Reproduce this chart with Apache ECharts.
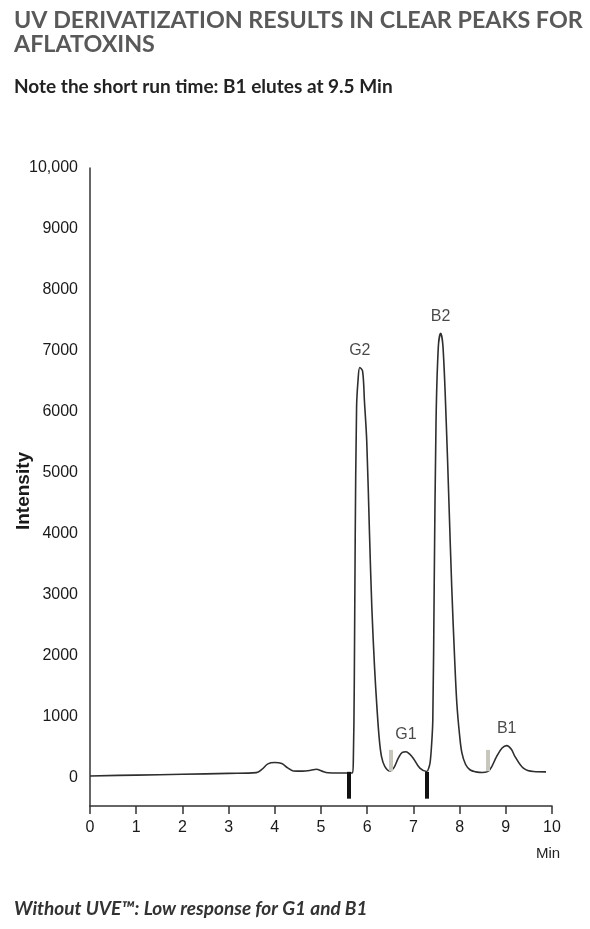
<!DOCTYPE html>
<html>
<head>
<meta charset="utf-8">
<script src="https://cdn.jsdelivr.net/npm/echarts@6/dist/echarts.min.js"></script>
<style>
html,body{margin:0;padding:0;background:#fff;}
#chart{width:590px;height:929px;}
</style>
</head>
<body>
<div id="chart"></div>
<script>
// Retention time (min)
var times = [0, 1, 2, 3, 3.6, 3.72, 3.85, 4.0, 4.15, 4.28, 4.4, 4.6, 4.78, 4.9, 5.02, 5.15, 5.4, 5.68,
  5.70, 5.72, 5.74, 5.77, 5.80, 5.84, 5.90, 5.94, 5.99, 6.05, 6.10, 6.16, 6.21, 6.26, 6.31, 6.38, 6.49,
  6.58, 6.67, 6.76, 6.84, 6.92, 7.0, 7.14, 7.29, 7.33, 7.36, 7.39, 7.42, 7.45, 7.49, 7.54, 7.59, 7.64,
  7.71, 7.77, 7.83, 7.89, 7.94, 8.0, 8.05, 8.13, 8.23, 8.35, 8.5, 8.65, 8.8, 8.92, 9.02, 9.12, 9.2,
  9.38, 9.6, 9.87];
// Intensity
var intensity = [33, 47, 60, 75, 87, 140, 230, 252, 235, 165, 115, 112, 125, 142, 112, 85, 80, 80,
  300, 1500, 3890, 6070, 6500, 6730, 6670, 6180, 5520, 4000, 2800, 1800, 1165, 650, 350, 190, 115,
  170, 320, 420, 430, 390, 320, 160, 105, 160, 245, 500, 950, 3125, 5850, 7075, 7290, 7075,
  5850, 4500, 3125, 2000, 1225, 700, 410, 220, 130, 100, 90, 130, 350, 490, 530, 470, 350,
  160, 105, 100];
// Peak labels
var peakNames = ['G2', 'G1', 'B2', 'B1'];
var peakTimes = [5.84, 6.84, 7.59, 9.02];
var peakHeights = [6730, 430, 7290, 530];
// Integration markers: [time, top, bottom]
var blackMarkers = [[5.6, 100, -340], [7.29, 100, -340]];
var grayMarkers = [[6.51, 460, 110], [8.6, 460, 110]];
// Tick labels
var yTicks = [0, 1000, 2000, 3000, 4000, 5000, 6000, 7000, 8000, 9000, 10000];
var yTickLabels = ['0', '1000', '2000', '3000', '4000', '5000', '6000', '7000', '8000', '9000', '10,000'];

var chart = echarts.init(document.getElementById('chart'));
var lineData = times.map(function (t, i) { return [t, intensity[i]]; });
var peakData = peakNames.map(function (n, i) { return { name: n, value: [peakTimes[i], peakHeights[i]] }; });
function markerLines(arr) {
  return arr.map(function (m) { return [{ coord: [m[0], m[1]] }, { coord: [m[0], m[2]] }]; });
}
var axisFont = 'Liberation Sans, Arial, sans-serif';

chart.setOption({
  animation: false,
  title: [
    { text: 'UV DERIVATIZATION RESULTS IN CLEAR PEAKS FOR\nAFLATOXINS', left: 9, top: 3,
      textStyle: { fontFamily: 'Lato', fontWeight: 'bold', fontSize: 23.3, color: '#595959', lineHeight: 24 } },
    { text: 'Note the short run time: B1 elutes at 9.5 Min', left: 9, top: 72,
      textStyle: { fontFamily: 'Lato', fontWeight: 'bold', fontSize: 19, color: '#222' } },
    { text: 'Without UVE\u2122: Low response for G1 and B1', left: 9, top: 894,
      textStyle: { fontFamily: 'Lato', fontWeight: 'bold', fontStyle: 'italic', fontSize: 19, color: '#333' } }
  ],
  grid: { left: 90, right: 38, top: 168, bottom: 123, outerBoundsMode: 'none', containLabel: false },
  xAxis: {
    type: 'value', min: 0, max: 10, interval: 1,
    name: 'Min', nameLocation: 'end', nameGap: -4,
    nameTextStyle: { fontFamily: axisFont, fontSize: 15, color: '#222', align: 'center', verticalAlign: 'top', padding: [40, 0, 0, 0] },
    axisLine: { onZero: false, lineStyle: { color: '#333', width: 1.5 } },
    axisTick: { show: true, length: 8, lineStyle: { color: '#333', width: 1.5 } },
    axisLabel: { fontFamily: axisFont, fontSize: 16, color: '#1a1a1a', margin: 14 },
    splitLine: { show: false }
  },
  yAxis: {
    type: 'value', min: -460, max: 10000,
    name: 'Intensity', nameLocation: 'middle', nameGap: 57, nameMoveOverlap: false,
    nameTextStyle: { fontFamily: axisFont, fontWeight: 'bold', fontSize: 19, color: '#1a1a1a', padding: [0, 8, 0, 0] },
    axisLine: { show: true, lineStyle: { color: '#333', width: 1.5 } },
    axisTick: { show: false },
    axisLabel: {
      fontFamily: axisFont, fontSize: 16, color: '#1a1a1a', margin: 12,
      customValues: yTicks,
      formatter: function (v) { var i = yTicks.indexOf(v); return i >= 0 ? yTickLabels[i] : ''; }
    },
    splitLine: { show: false }
  },
  series: [
    {
      type: 'line', data: lineData, showSymbol: false, smooth: 0.35,
      lineStyle: { color: '#2e2e2e', width: 1.6 },
      markLine: {
        silent: true, symbol: 'none', label: { show: false },
        lineStyle: { color: '#111', width: 4, type: 'solid' },
        data: markerLines(blackMarkers)
      }
    },
    {
      type: 'line', data: [], showSymbol: false,
      markLine: {
        silent: true, symbol: 'none', label: { show: false },
        lineStyle: { color: '#c9c6bd', width: 4, type: 'solid' },
        data: markerLines(grayMarkers)
      }
    },
    {
      type: 'scatter', data: peakData, symbolSize: 0,
      label: { show: true, position: 'top', distance: 9, formatter: '{b}',
        fontFamily: axisFont, fontSize: 16, color: '#1a1a1a' }
    }
  ]
});
</script>
</body>
</html>
